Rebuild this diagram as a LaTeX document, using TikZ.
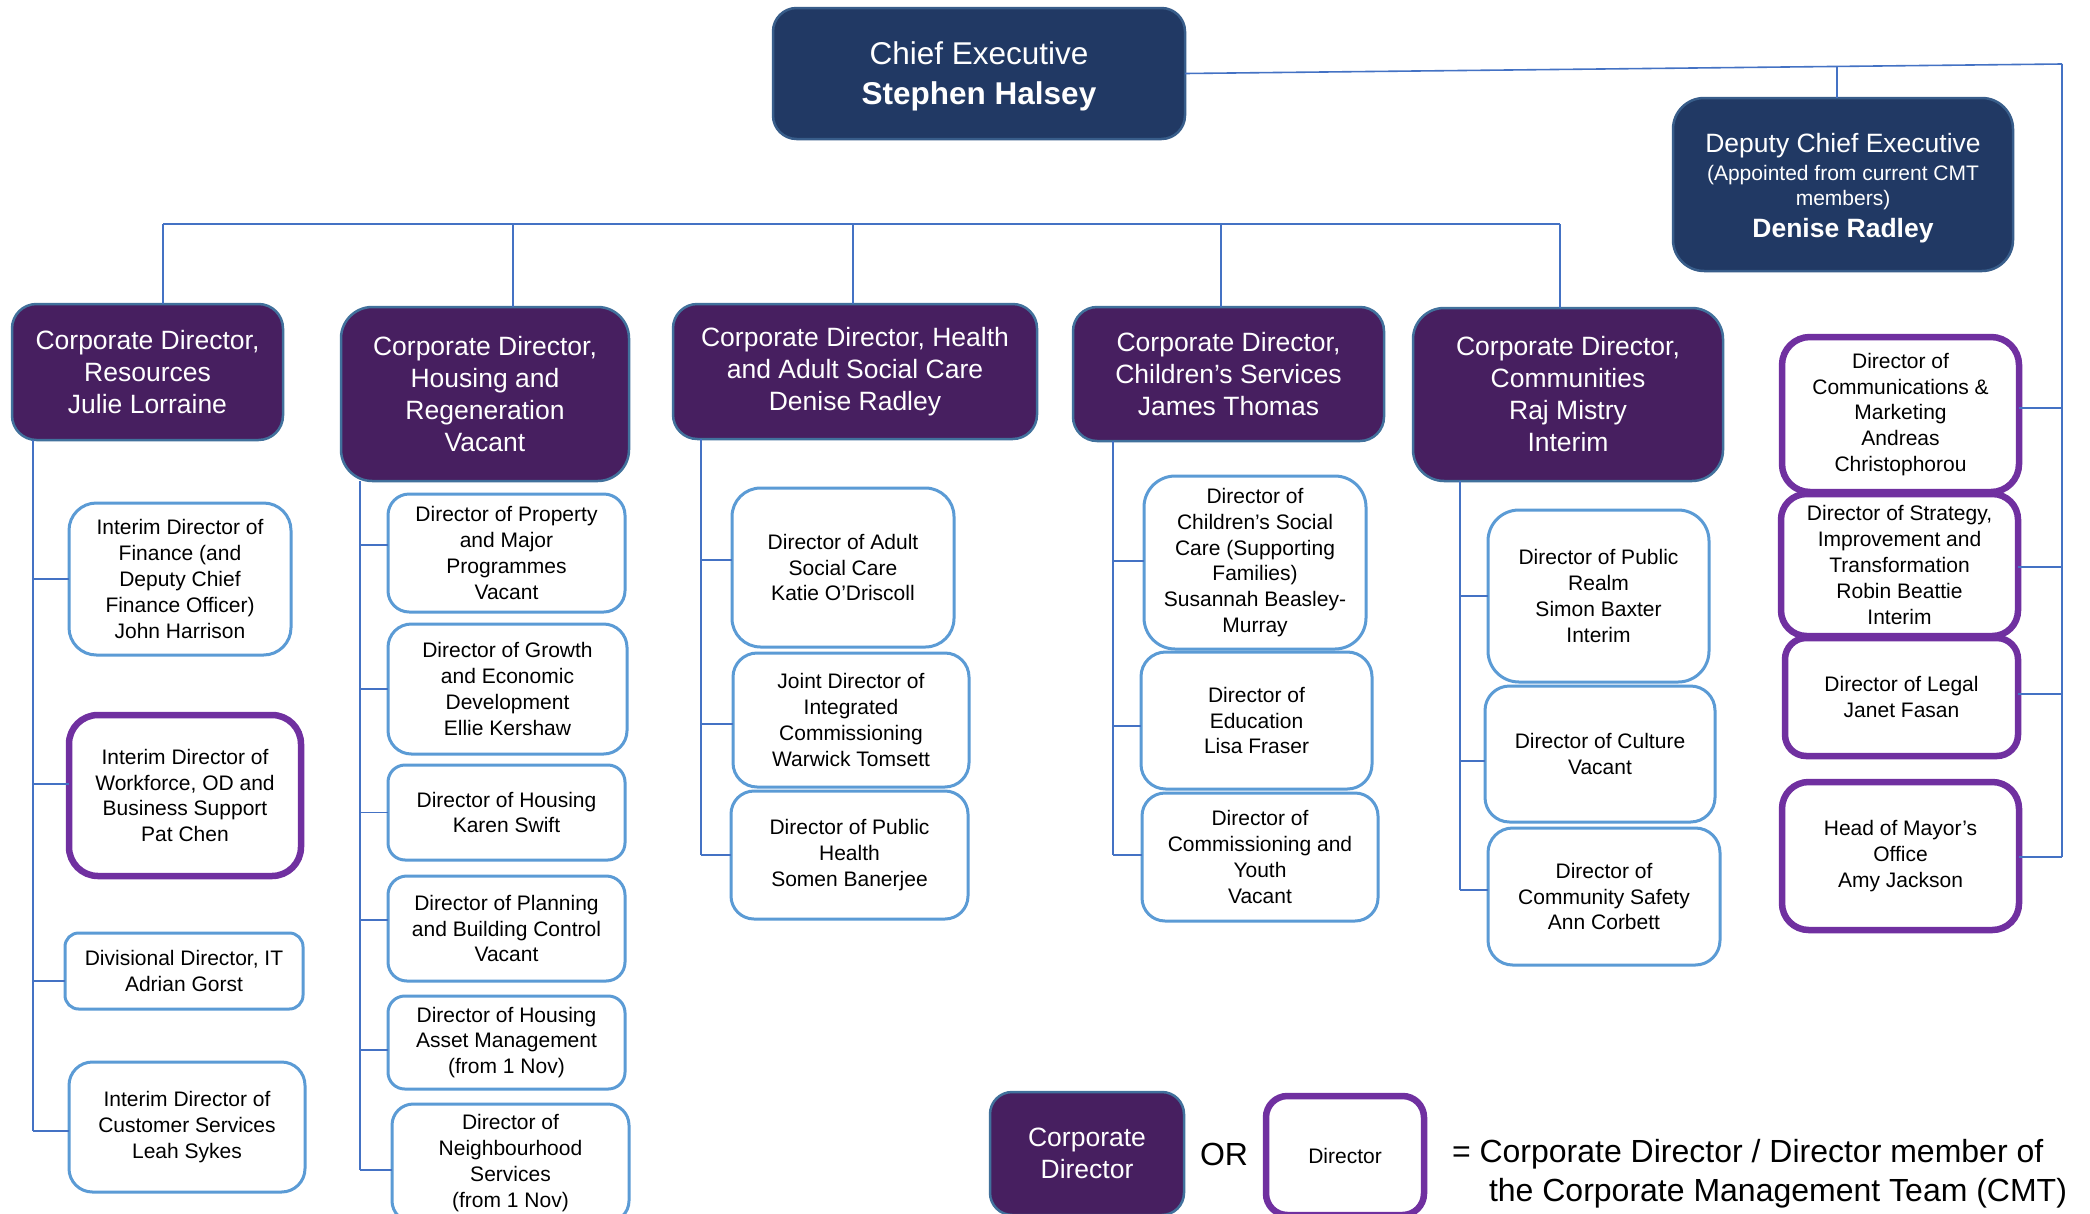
\documentclass[tikz,border=0pt]{standalone}
\usepackage{fontspec}
\setmainfont{Liberation Sans}
\definecolor{navy}{HTML}{213964}
\definecolor{navyb}{HTML}{385D8A}
\definecolor{purp}{HTML}{471F60}
\definecolor{purpb}{HTML}{41719C}
\definecolor{dirb}{HTML}{5B9BD5}
\definecolor{pdirb}{HTML}{7030A0}
\definecolor{connc}{HTML}{4472C4}
\newcommand\bx[7]{%
  \pgfmathsetmacro\bw{#5-#3}\pgfmathsetmacro\bh{#6-#4}%
  \pgfmathsetmacro\br{0.18*min(\bw,\bh)}%
  \node[#2, anchor=north west, minimum width=\bw pt, minimum height=\bh pt, rounded corners=\br pt] (#1) at (#3,#4) {#7};}
\begin{document}
\begin{tikzpicture}[x=1pt,y=-1pt,
  base/.style={inner sep=0pt, outer sep=0pt, align=center},
  ceb/.style={base, fill=navy, draw=navyb, line width=2.5pt, text=white, font=\fontsize{31.5}{40}\selectfont},
  corp/.style={base, fill=purp, draw=purpb, line width=2.5pt, text=white, font=\fontsize{26.5}{32}\selectfont},
  dir/.style={base, fill=white, draw=dirb, line width=3pt, text=black, font=\fontsize{21}{25.8}\selectfont},
  pdir/.style={base, fill=white, draw=pdirb, line width=6.5pt, text=black, font=\fontsize{21}{25.8}\selectfont},
  conn/.style={draw=connc, line width=1.6pt},
  plain/.style={inner sep=0pt, outer sep=0pt, font=\fontsize{32}{39}\selectfont}]
\clip (0,0) rectangle (2090,1213);
\fill[white] (0,0) rectangle (2090,1213);
% top level
\bx{ce}{ceb}{773}{8}{1185}{139}{\rule{0pt}{28.5pt}Chief Executive\\\textbf{Stephen Halsey}}
\bx{dce}{ceb, font=\fontsize{21}{25}\selectfont}{1673}{98}{2013}{271}{{\fontsize{26.5}{30}\selectfont\rule{0pt}{26pt}Deputy Chief Executive}\\[3pt](Appointed from current CMT\\members)\\[7.5pt]{\fontsize{26.5}{30}\selectfont\bfseries Denise Radley}}
% corporate directors
\bx{c1}{corp}{12}{304}{283}{440}{Corporate Director,\\Resources\\Julie Lorraine}
\bx{c2}{corp}{341}{307}{629}{481}{Corporate Director,\\Housing and\\Regeneration\\Vacant}
\bx{c3}{corp}{673}{304}{1037}{439}{Corporate Director, Health\\and Adult Social Care\\Denise Radley}
\bx{c4}{corp}{1073}{307}{1384}{441}{Corporate Director,\\Children’s Services\\James Thomas}
\bx{c5}{corp}{1413}{308}{1723}{481}{Corporate Director,\\Communities\\Raj Mistry\\Interim}
% resources
\bx{r1}{dir}{69}{503}{291}{655}{Interim Director of\\Finance (and\\Deputy Chief\\Finance Officer)\\John Harrison}
\bx{r2}{pdir}{69}{715}{301}{876}{Interim Director of\\Workforce, OD and\\Business Support\\Pat Chen}
\bx{r3}{dir}{65}{933}{303}{1009}{Divisional Director, IT\\Adrian Gorst}
\bx{r4}{dir}{69}{1062}{305}{1192}{Interim Director of\\Customer Services\\Leah Sykes}
% housing
\bx{h1}{dir}{388}{494}{625}{612}{Director of Property\\and Major\\Programmes\\Vacant}
\bx{h2}{dir}{388}{624}{627}{754}{Director of Growth\\and Economic\\Development\\Ellie Kershaw}
\bx{h3}{dir}{388}{765}{625}{860}{Director of Housing\\Karen Swift}
\bx{h4}{dir}{388}{876}{625}{981}{Director of Planning\\and Building Control\\Vacant}
\bx{h5}{dir}{388}{996}{625}{1089}{Director of Housing\\Asset Management\\(from 1 Nov)}
\bx{h6}{dir}{392}{1104}{629}{1222}{Director of\\Neighbourhood\\Services\\(from 1 Nov)}
% health
\bx{a1}{dir}{732}{488}{954}{647}{Director of Adult\\Social Care\\Katie O’Driscoll}
\bx{a2}{dir}{733}{653}{969}{787}{Joint Director of\\Integrated\\Commissioning\\Warwick Tomsett}
\bx{a3}{dir}{731}{791}{968}{919}{Director of Public\\Health\\Somen Banerjee}
% children
\bx{k1}{dir}{1144}{476}{1366}{649}{Director of\\Children’s Social\\Care (Supporting\\Families)\\Susannah Beasley-\\Murray}
\bx{k2}{dir}{1141}{652}{1372}{789}{Director of\\Education\\Lisa Fraser}
\bx{k3}{dir}{1142}{793}{1378}{921}{Director of\\Commissioning and\\Youth\\Vacant}
% communities
\bx{m1}{dir}{1488}{510}{1709}{682}{Director of Public\\Realm\\Simon Baxter\\Interim}
\bx{m2}{dir}{1485}{686}{1715}{822}{Director of Culture\\Vacant}
\bx{m3}{dir}{1488}{828}{1720}{965}{Director of\\Community Safety\\Ann Corbett}
% right column
\bx{p1}{pdir}{1782}{337}{2019}{492}{Director of\\Communications \&\\Marketing\\Andreas\\Christophorou}
\bx{p2}{pdir}{1781}{494}{2018}{636}{Director of Strategy,\\Improvement and\\Transformation\\Robin Beattie\\Interim}
\bx{p3}{pdir}{1785}{638}{2018}{756}{Director of Legal\\Janet Fasan}
\bx{p4}{pdir}{1782}{782}{2019}{930}{Head of Mayor’s\\Office\\Amy Jackson}
% legend
\bx{lg1}{corp}{990}{1092}{1184}{1215}{Corporate\\Director}
\bx{lg2}{pdir}{1266}{1096}{1424}{1215}{Director}
\node[plain] (orx) at (1224,1154) {OR};
\node[plain, anchor=west, align=left] (lgt) at (1452,1173.5) {= Corporate Director / Director member of\\\hspace*{37pt}the Corporate Management Team (CMT)};
% connectors top
\coordinate (rtop) at (2062,64);
\coordinate (dtop) at (1837,66);
\draw[conn] (ce.east) -- (rtop);
\draw[conn] (dtop) -- (dtop |- dce.north);
\foreach \n/\d in {p1/6.5,p2/-2,p3/3,p4/-1} {\coordinate (t\n) at ([yshift=\d pt]\n.east); \draw[conn] (t\n -| rtop) -- (t\n);}
\draw[conn] (rtop) -- (rtop |- tp4);
% bar to corporate directors
\coordinate (b1) at (163,224);
\coordinate (b2) at (513,224);
\coordinate (b3) at (853,224);
\coordinate (b4) at (1221,224);
\coordinate (b5) at (1560,224);
\draw[conn] (b1) -- (b5);
\draw[conn] (b1) -- (b1 |- c1.north);
\draw[conn] (b2) -- (b2 |- c2.north);
\draw[conn] (b3) -- (b3 |- c3.north);
\draw[conn] (b4) -- (b4 |- c4.north);
\draw[conn] (b5) -- (b5 |- c5.north);
% spines
\coordinate (s1) at (33,0);
\coordinate (s2) at (360,0);
\coordinate (s3) at (701,0);
\coordinate (s4) at (1113,0);
\coordinate (s5) at (1460,0);
\foreach \n/\d in {r1/0,r2/11.5,r3/-10,r4/-4} {\coordinate (t\n) at ([yshift=\d pt]\n.west); \draw[conn] (t\n -| s1) -- (t\n);}
\draw[conn] (s1 |- c1.south) -- (s1 |- tr4);
\foreach \n/\d in {h1/8,h2/0,h3/0,h4/8.5,h5/-7.5,h6/-7} {\coordinate (t\n) at ([yshift=\d pt]\n.west); \draw[conn] (t\n -| s2) -- (t\n);}
\draw[conn] (s2 |- c2.south) -- (s2 |- th6);
\foreach \n/\d in {a1/7.5,a2/-4,a3/0} {\coordinate (t\n) at ([yshift=\d pt]\n.west); \draw[conn] (t\n -| s3) -- (t\n);}
\draw[conn] (s3 |- c3.south) -- (s3 |- ta3);
\foreach \n/\d in {k1/1.5,k2/-5.5,k3/2} {\coordinate (t\n) at ([yshift=\d pt]\n.west); \draw[conn] (t\n -| s4) -- (t\n);}
\draw[conn] (s4 |- c4.south) -- (s4 |- tk3);
\foreach \n/\d in {m1/0,m2/-7,m3/6.5} {\coordinate (t\n) at ([yshift=\d pt]\n.west); \draw[conn] (t\n -| s5) -- (t\n);}
\draw[conn] (s5 |- c5.south) -- (s5 |- tm3);
\end{tikzpicture}
\end{document}
